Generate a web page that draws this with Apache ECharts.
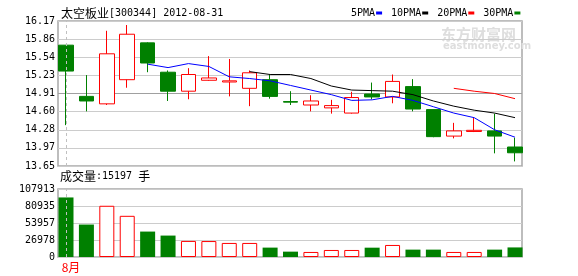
<!DOCTYPE html>
<html><head><meta charset="utf-8">
<script src="https://cdn.jsdelivr.net/npm/echarts@6/dist/echarts.min.js"></script>
<style>html,body{margin:0;padding:0;background:#fff}#c{width:578px;height:276px}</style>
</head><body><div id="c"></div>
<script>
const stockName = '太空板业';
const stockCode = '300344';
const dates = ['2012-08-01','2012-08-02','2012-08-03','2012-08-06','2012-08-07','2012-08-08','2012-08-09','2012-08-10',
  '2012-08-13','2012-08-14','2012-08-15','2012-08-16','2012-08-17','2012-08-20','2012-08-21','2012-08-22','2012-08-23',
  '2012-08-24','2012-08-27','2012-08-28','2012-08-29','2012-08-30','2012-08-31'];
const openP  = [15.75,14.86,14.73,15.15,15.79,15.28,14.95,15.14,15.11,15.00,15.15,14.77,14.71,14.66,14.57,14.90,14.85,15.03,14.63,14.17,14.25,14.26,13.98];
const closeP = [15.30,14.78,15.60,15.94,15.44,14.95,15.24,15.18,15.13,15.27,14.86,14.76,14.78,14.70,14.84,14.85,15.12,14.64,14.16,14.26,14.27,14.17,13.88];
const highP  = [15.75,15.23,16.00,16.10,15.80,15.31,15.35,15.56,15.51,15.31,15.24,14.95,14.88,14.80,14.94,15.10,15.24,15.16,14.63,14.40,14.50,14.56,14.14];
const lowP   = [14.36,14.60,14.71,15.01,15.28,14.78,14.81,15.13,14.86,14.69,14.82,14.71,14.60,14.56,14.56,14.81,14.74,14.60,14.15,14.13,14.24,13.87,13.73];
const ma5  = [null,null,null,null,15.42,15.36,15.43,15.38,15.20,15.17,15.13,15.05,14.97,14.89,14.79,14.80,14.86,14.79,14.68,14.57,14.49,14.28,14.15];
const ma10 = [null,null,null,null,null,null,null,null,null,15.29,15.24,15.24,15.17,15.04,14.97,14.96,14.95,14.89,14.78,14.69,14.62,14.57,14.49];
const ma20 = [null,null,null,null,null,null,null,null,null,null,null,null,null,null,null,null,null,null,null,15.00,14.95,14.91,14.82];
const ma30 = [];
const volume = [94500,51500,81300,65350,40350,34000,25500,25300,22300,22300,14900,8500,8000,11150,11150,14800,19100,11700,11700,8000,8000,11700,15197];
const priceTicks = ['13.65','13.97','14.28','14.60','14.91','15.23','15.54','15.86','16.17'];
const volTicks = ['0','26978','53957','80935','107913'];
const maNames = ['5PMA','10PMA','20PMA','30PMA'];
const maColors = ['#0000ff','#000000','#ff0000','#008000'];

const RED = '#ff0000', GREEN = '#008000';
const X_MIN = -0.392, X_MAX = 22.342;
const last = dates.length - 1;
const isUp = i => closeP[i] >= openP[i];

const candleData = dates.map((d, i) => [i, openP[i], closeP[i], lowP[i], highP[i]]);
const volData = volume.map((v, i) => ({
  value: [i, v],
  itemStyle: isUp(i) ? {color: '#ffffff', borderColor: RED, borderWidth: 1} : {color: GREEN, borderColor: GREEN, borderWidth: 0}
}));
const maSeries = [ma5, ma10, ma20, ma30].map((arr, k) => ({
  name: maNames[k], type: 'line', xAxisIndex: 0, yAxisIndex: 0,
  data: arr.map((v, i) => v == null ? null : [i, v]).filter(p => p),
  showSymbol: false, symbol: 'none',
  lineStyle: {color: maColors[k], width: 1},
  itemStyle: {color: maColors[k]},
  z: 3
}));
const monthIdx = dates.map((d, i) => i).filter(i => i === 0 || dates[i].slice(5, 7) !== dates[i - 1].slice(5, 7));
const monthLabel = i => parseInt(dates[i].slice(5, 7), 10) + '月';
const nearest = (arr, v) => arr.reduce((b, t) => Math.abs(parseFloat(t) - v) < Math.abs(parseFloat(b) - v) ? t : b, arr[0]);

const mono = 'DejaVu Sans Mono';
const cjk = 'Noto Sans CJK SC';
const sepLine = {
  symbol: 'none', silent: true, animation: false,
  label: {show: false},
  lineStyle: {type: [3, 3], color: '#c0c0c0', width: 1},
  data: monthIdx.map(i => ({xAxis: i}))
};
const richTxt = {
  a: {fontFamily: cjk, fontSize: 12, color: '#000', fontWeight: 'normal'},
  b: {fontFamily: mono, fontSize: 10, color: '#000', fontWeight: 'normal'}
};

const chart = echarts.init(document.getElementById('c'), null, {renderer: 'canvas'});
chart.setOption({
  animation: false,
  backgroundColor: '#ffffff',
  title: [
    {text: '{a|' + stockName + '}{b|[' + stockCode + '] ' + dates[last] + '}', left: 61, top: 7, padding: 0,
      textStyle: {fontWeight: 'normal', rich: richTxt}},
    {text: '{a|成交量}{b|:' + volume[last] + ' }{a|手}', left: 60, top: 170, padding: 0,
      textStyle: {fontWeight: 'normal', rich: richTxt}}
  ],
  legend: {
    data: maNames, left: 351, top: 8, padding: 0, align: 'right', icon: 'rect',
    itemWidth: 6, itemHeight: 3, itemGap: 9, selectedMode: false,
    textStyle: {fontFamily: mono, fontSize: 10, color: '#000', padding: [0, -4, 0, 0]}
  },
  graphic: [
    {type: 'text', left: 441, top: 27, z: 0, style: {text: '东方财富网', font: 'bold 15px "Noto Sans CJK SC"', fill: '#dedede'}},
    {type: 'text', left: 443, top: 41, z: 0, style: {text: 'eastmoney.com', font: 'bold 10px "DejaVu Sans"', fill: '#dedede'}}
  ],
  grid: [
    {left: 58, right: 56, top: 21, height: 145, show: true, borderColor: '#a8a8a8', borderWidth: 1.5, backgroundColor: 'transparent'},
    {left: 58, right: 56, top: 189, height: 68, show: true, borderColor: '#a8a8a8', borderWidth: 1.5, backgroundColor: 'transparent'}
  ],
  xAxis: [
    {type: 'value', gridIndex: 0, min: X_MIN, max: X_MAX, axisLine: {show: false}, axisTick: {show: false},
      axisLabel: {show: false}, splitLine: {show: false}},
    {type: 'value', gridIndex: 1, min: X_MIN, max: X_MAX, axisLine: {show: false}, axisTick: {show: false},
      splitLine: {show: false},
      axisLabel: {show: true, customValues: monthIdx, formatter: v => monthLabel(Math.round(v)),
        color: RED, fontFamily: cjk, fontSize: 12, margin: 4, padding: [0, 0, 0, 10]}}
  ],
  yAxis: [
    {type: 'value', gridIndex: 0, min: 13.65, max: 16.17, interval: 0.315,
      axisLine: {show: false}, axisTick: {show: false},
      axisLabel: {formatter: v => nearest(priceTicks, v), fontFamily: mono, fontSize: 10, color: '#000', margin: 3, padding: [0, 0, 5, 0]},
      splitLine: {show: true, lineStyle: {color: ['#cccccc','#cccccc','#cccccc','#cccccc','#a0a0a0','#cccccc','#cccccc','#cccccc','#cccccc'], width: 1}}},
    {type: 'value', gridIndex: 1, min: 0, max: 107913, interval: 107913 / 4,
      axisLine: {show: false}, axisTick: {show: false},
      axisLabel: {formatter: v => nearest(volTicks, v), fontFamily: mono, fontSize: 10, color: '#000', margin: 3, padding: [6, 0, 0, 0]},
      splitLine: {show: true, lineStyle: {color: '#cccccc', width: 1}}}
  ],
  series: [
    {type: 'candlestick', name: 'K', xAxisIndex: 0, yAxisIndex: 0, data: candleData,
      encode: {x: 0, y: [1, 2, 3, 4]}, barWidth: 15,
      itemStyle: {color: '#ffffff', color0: GREEN, borderColor: RED, borderColor0: GREEN, borderWidth: 1},
      markLine: sepLine, z: 2},
    ...maSeries,
    {type: 'bar', name: 'VOL', xAxisIndex: 1, yAxisIndex: 1, data: volData, barWidth: 15,
      markLine: sepLine, z: 2}
  ]
});
</script>
</body></html>
